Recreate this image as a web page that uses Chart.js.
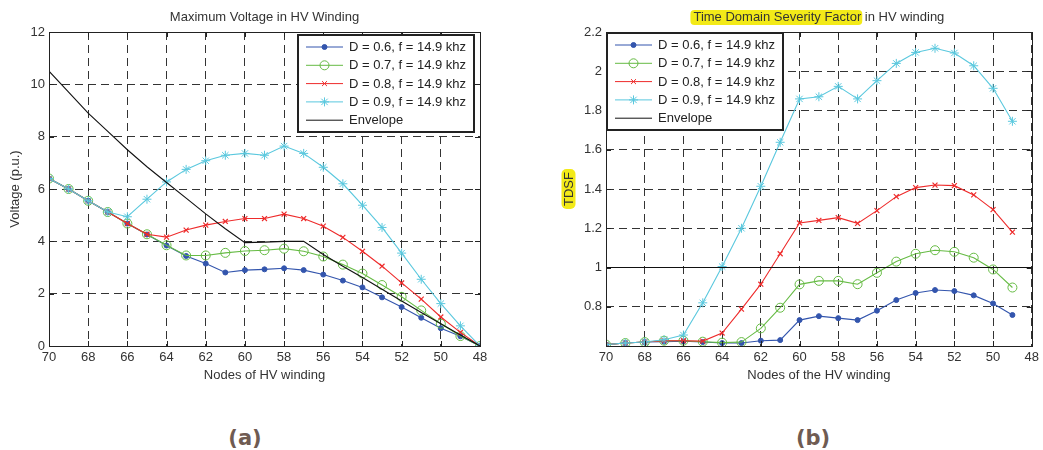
<!DOCTYPE html>
<html>
<head>
<meta charset="utf-8">
<script src="https://cdn.jsdelivr.net/npm/chart.js@4.4.1/dist/chart.umd.min.js"></script>
<style>
  body { margin: 0; background: #fff; width: 1043px; height: 450px; position: relative; overflow: hidden; }
  .wrap { position: absolute; top: 0; height: 395px; }
  #wrapA { left: 0; width: 520px; }
  #wrapB { left: 520px; width: 523px; }
  .tag { position: absolute; top: 428px; width: 80px; text-align: center;
         font: bold 21px "DejaVu Sans", sans-serif; line-height: 1; color: #6f5b52; }
</style>
</head>
<body>
<div class="wrap" id="wrapA"><canvas id="chartA" width="520" height="395"></canvas></div>
<div class="wrap" id="wrapB"><canvas id="chartB" width="523" height="395"></canvas></div>
<div class="tag" style="left:205px">(a)</div>
<div class="tag" style="left:773px">(b)</div>
<script>
// ---- data: (a) maximum voltage, nodes 70 -> 48
const nodesA = [70, 69, 68, 67, 66, 65, 64, 63, 62, 61, 60, 59, 58, 57, 56, 55, 54, 53, 52, 51, 50, 49, 48];
const voltD06 = [6.4, 6.0, 5.55, 5.12, 4.68, 4.26, 3.84, 3.44, 3.15, 2.81, 2.9, 2.93, 2.97, 2.9, 2.73, 2.5, 2.24, 1.86, 1.49, 1.08, 0.68, 0.37, 0];
const voltD07 = [6.4, 6.0, 5.55, 5.12, 4.68, 4.27, 3.85, 3.46, 3.46, 3.56, 3.63, 3.66, 3.72, 3.62, 3.42, 3.11, 2.77, 2.33, 1.88, 1.36, 0.85, 0.38, 0];
const voltD08 = [6.4, 6.0, 5.55, 5.12, 4.68, 4.27, 4.16, 4.43, 4.62, 4.76, 4.87, 4.87, 5.04, 4.87, 4.58, 4.15, 3.62, 3.05, 2.41, 1.79, 1.11, 0.52, 0];
const voltD09 = [6.4, 6.0, 5.55, 5.12, 4.94, 5.61, 6.27, 6.75, 7.08, 7.29, 7.36, 7.29, 7.64, 7.36, 6.83, 6.2, 5.38, 4.53, 3.55, 2.55, 1.62, 0.77, 0];
const envelopeA = [10.5, 9.7, 8.9, 8.2, 7.5, 6.85, 6.25, 5.65, 5.05, 4.48, 3.95, 3.97, 4.0, 4.0, 3.5, 3.05, 2.62, 2.17, 1.72, 1.28, 0.85, 0.42, 0];

// ---- data: (b) time domain severity factor, nodes 70 -> 49
const nodesB = [70, 69, 68, 67, 66, 65, 64, 63, 62, 61, 60, 59, 58, 57, 56, 55, 54, 53, 52, 51, 50, 49];
const tdsfD06 = [0.607, 0.615, 0.62, 0.622, 0.624, 0.62, 0.615, 0.615, 0.627, 0.63, 0.732, 0.752, 0.742, 0.732, 0.78, 0.834, 0.87, 0.885, 0.88, 0.858, 0.817, 0.758];
const tdsfD07 = [0.607, 0.615, 0.62, 0.627, 0.627, 0.622, 0.617, 0.62, 0.69, 0.795, 0.914, 0.932, 0.932, 0.915, 0.973, 1.03, 1.07, 1.088, 1.08, 1.05, 0.99, 0.898];
const tdsfD08 = [0.607, 0.615, 0.62, 0.627, 0.627, 0.625, 0.666, 0.788, 0.915, 1.07, 1.227, 1.24, 1.254, 1.225, 1.29, 1.361, 1.407, 1.42, 1.417, 1.37, 1.295, 1.18];
const tdsfD09 = [0.607, 0.615, 0.62, 0.632, 0.656, 0.82, 1.005, 1.2, 1.414, 1.638, 1.859, 1.87, 1.923, 1.859, 1.952, 2.04, 2.096, 2.117, 2.093, 2.028, 1.913, 1.745];
const envNodesB = [70, 48];
const envelopeB = [1, 1];

const seriesLabels = ["D = 0.6, f = 14.9 khz", "D = 0.7, f = 14.9 khz", "D = 0.8, f = 14.9 khz", "D = 0.9, f = 14.9 khz", "Envelope"];

const FONT = '"Liberation Sans", Arial, sans-serif';
const TXT = '#333';

function pts(xs, ys) { return xs.map((x, i) => ({ x: x, y: ys[i] })); }

function makeSets(xs, s1, s2, s3, s4, envX, envY) {
  return [
    { label: seriesLabels[0], data: pts(xs, s1), borderColor: '#3355ad', backgroundColor: '#3355ad',
      pointStyle: 'circle', pointRadius: 2.5, pointBorderWidth: 1, order: 5 },
    { label: seriesLabels[1], data: pts(xs, s2), borderColor: '#66bb44', backgroundColor: 'rgba(0,0,0,0)',
      pointStyle: 'circle', pointRadius: 4.5, pointBorderWidth: 1, order: 4 },
    { label: seriesLabels[2], data: pts(xs, s3), borderColor: '#ee2b2b', backgroundColor: '#ee2b2b',
      pointStyle: 'crossRot', pointRadius: 3.5, pointBorderWidth: 1.2, order: 3 },
    { label: seriesLabels[3], data: pts(xs, s4), borderColor: '#5ac8de', backgroundColor: '#5ac8de',
      pointStyle: 'star', pointRadius: 4.5, pointBorderWidth: 1, order: 2 },
    { label: seriesLabels[4], data: pts(envX, envY), borderColor: '#111', backgroundColor: '#111',
      pointRadius: 0, order: 1 }
  ];
}

// frame, inward ticks, legend box and (highlighted) titles, MATLAB style
const matlabFrame = {
  id: 'matlabFrame',
  afterDraw(chart, args, opts) {
    const ctx = chart.ctx, a = chart.chartArea;
    const sx = chart.scales.x, sy = chart.scales.y;
    ctx.save();
    ctx.strokeStyle = '#222';
    ctx.lineWidth = 1;
    ctx.setLineDash([]);
    ctx.beginPath();
    sx.ticks.forEach(t => {
      const px = Math.round(sx.getPixelForValue(t.value)) + 0.5;
      ctx.moveTo(px, a.bottom); ctx.lineTo(px, a.bottom - 5);
      ctx.moveTo(px, a.top); ctx.lineTo(px, a.top + 5);
    });
    sy.ticks.forEach(t => {
      const py = Math.round(sy.getPixelForValue(t.value)) + 0.5;
      ctx.moveTo(a.left, py); ctx.lineTo(a.left + 5, py);
      ctx.moveTo(a.right, py); ctx.lineTo(a.right - 5, py);
    });
    ctx.stroke();
    ctx.strokeRect(Math.round(a.left) + 0.5, Math.round(a.top) + 0.5,
                   Math.round(a.right - a.left), Math.round(a.bottom - a.top));

    // legend
    const bw = 176, bh = 97;
    const bx = opts.legendAt === 'left' ? a.left + 1 : a.right - 6 - bw;
    const by = opts.legendAt === 'left' ? a.top + 1 : a.top + 3;
    ctx.fillStyle = '#fff';
    ctx.fillRect(bx, by, bw, bh);
    ctx.lineWidth = 2;
    ctx.strokeStyle = '#222';
    ctx.strokeRect(bx, by, bw, bh);
    ctx.font = '13px ' + FONT;
    ctx.textBaseline = 'middle';
    ctx.textAlign = 'left';
    chart.data.datasets.forEach((ds, i) => {
      const ry = by + 12 + i * 18.3;
      ctx.lineWidth = 1;
      ctx.strokeStyle = ds.borderColor;
      ctx.beginPath();
      ctx.moveTo(bx + 8, ry); ctx.lineTo(bx + 45, ry);
      ctx.stroke();
      if (ds.pointRadius > 0) {
        ctx.fillStyle = ds.backgroundColor;
        Chart.helpers.drawPoint(ctx, { pointStyle: ds.pointStyle, radius: ds.pointRadius,
          rotation: 0, borderWidth: 1 }, bx + 26.5, ry);
      }
      ctx.fillStyle = '#222';
      ctx.fillText(ds.label, bx + 51, ry + 0.5);
    });

    // title, with optional highlighted leading part
    ctx.font = '13px ' + FONT;
    const full = opts.titleHi + opts.title;
    const w = ctx.measureText(full).width;
    const tx = (a.left + a.right) / 2 - w / 2;
    if (opts.titleHi) {
      const hw = ctx.measureText(opts.titleHi).width;
      ctx.fillStyle = '#f3ea18';
      ctx.beginPath();
      ctx.roundRect(tx - 3, 10, hw + 4, 15, 4);
      ctx.fill();
    }
    ctx.fillStyle = TXT;
    ctx.fillText(full, tx, 17.5);

    // highlighted y label
    if (opts.yLabelHi) {
      const cy = (a.top + a.bottom) / 2;
      const lw = ctx.measureText(opts.yLabelHi).width;
      ctx.translate(49, cy);
      ctx.rotate(-Math.PI / 2);
      ctx.fillStyle = '#f3ea18';
      ctx.beginPath();
      ctx.roundRect(-lw / 2 - 3, -7.5, lw + 6, 14, 5);
      ctx.fill();
      ctx.fillStyle = TXT;
      ctx.textAlign = 'center';
      ctx.fillText(opts.yLabelHi, 0, 0);
    }
    ctx.restore();
  }
};

function xScale(title) {
  return {
    type: 'linear', reverse: true, min: 48, max: 70,
    afterFit: s => { s.height = 40; },
    ticks: { stepSize: 2, padding: 4, color: TXT, font: { family: FONT, size: 13 } },
    grid: { color: '#333', lineWidth: 1, drawTicks: false },
    border: { display: false, dash: [8, 5] },
    title: { display: true, text: title, color: TXT, font: { family: FONT, size: 13 }, padding: { top: 0, bottom: 3 } }
  };
}

function gridY() {
  return { color: '#333', lineWidth: 1, drawTicks: false };
}

new Chart(document.getElementById('chartA'), {
  type: 'line',
  data: { datasets: makeSets(nodesA, voltD06, voltD07, voltD08, voltD09, nodesA, envelopeA) },
  options: {
    responsive: false, animation: false,
    elements: { line: { borderWidth: 1.1, tension: 0 } },
    layout: { padding: { left: 0, right: 40, top: 32, bottom: 9 } },
    scales: {
      x: xScale('Nodes of HV winding'),
      y: {
        min: 0, max: 12,
        afterFit: s => { s.width = 49; },
        ticks: { stepSize: 2, padding: 4, color: TXT, font: { family: FONT, size: 13 } },
        grid: gridY(),
        border: { display: false, dash: [8, 5] },
        title: { display: true, text: 'Voltage (p.u.)', color: TXT, font: { family: FONT, size: 13 }, padding: { top: 8, bottom: 0 } }
      }
    },
    plugins: {
      legend: { display: false }, tooltip: { enabled: false },
      matlabFrame: { legendAt: 'right', title: 'Maximum Voltage in HV Winding', titleHi: '' }
    }
  },
  plugins: [matlabFrame]
});

new Chart(document.getElementById('chartB'), {
  type: 'line',
  data: { datasets: makeSets(nodesB, tdsfD06, tdsfD07, tdsfD08, tdsfD09, envNodesB, envelopeB) },
  options: {
    responsive: false, animation: false,
    elements: { line: { borderWidth: 1.1, tension: 0 } },
    layout: { padding: { left: 0, right: 11, top: 32, bottom: 9 } },
    scales: {
      x: xScale('Nodes of the HV winding'),
      y: {
        min: 0.6, max: 2.2,
        afterFit: s => { s.width = 86; },
        ticks: { stepSize: 0.2, padding: 4, color: TXT, font: { family: FONT, size: 13 },
                 callback: v => v < 0.7 ? '' : String(Math.round(v * 10) / 10) },
        grid: gridY(),
        border: { display: false, dash: [8, 5] },
        title: { display: false }
      }
    },
    plugins: {
      legend: { display: false }, tooltip: { enabled: false },
      matlabFrame: { legendAt: 'left', title: ' in HV winding', titleHi: 'Time Domain Severity Factor', yLabelHi: 'TDSF' }
    }
  },
  plugins: [matlabFrame]
});
</script>
</body>
</html>
